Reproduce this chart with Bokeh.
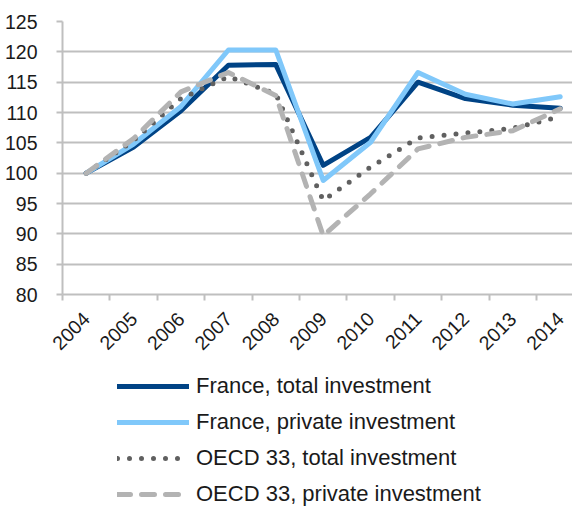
from bokeh.plotting import figure
from bokeh.models import Range1d, FixedTicker, Legend, LegendItem
from bokeh.layouts import column
from bokeh.embed import file_html
from bokeh.resources import INLINE
import math

years = [2004, 2005, 2006, 2007, 2008, 2009, 2010, 2011, 2012, 2013, 2014]
france_total = [100, 104.3, 110.3, 117.8, 117.9, 101.3, 105.9, 115.0, 112.3, 111.2, 110.7]
france_private = [100, 104.8, 111.0, 120.3, 120.3, 98.8, 105.1, 116.6, 113.0, 111.4, 112.6]
oecd_total = [100, 105.4, 112.3, 115.9, 113.1, 95.5, 101.0, 105.8, 106.6, 107.4, 109.3]
oecd_private = [100, 105.7, 113.4, 116.6, 112.8, 89.7, 96.6, 104.0, 105.9, 107.0, 110.6]
y_ticks = [80, 85, 90, 95, 100, 105, 110, 115, 120, 125]
labels = ["France, total investment", "France, private investment",
          "OECD 33, total investment", "OECD 33, private investment"]
series = [france_total, france_private, oecd_total, oecd_private]

FONT = "Liberation Sans"
GRID = "#BFBFBF"
TXT = "#1a1a1a"

STYLES = [
    dict(line_color="#004385", line_width=5, line_join="round", line_cap="round"),
    dict(line_color="#80C8FA", line_width=5, line_join="round", line_cap="round"),
    dict(line_color="#606060", line_width=5, line_dash="0 12", line_cap="round", line_join="round"),
    dict(line_color="#B3B3B3", line_width=5, line_dash="13 11", line_cap="round", line_join="round"),
]

p = figure(width=572, height=369, output_backend="svg", toolbar_location=None,
           x_range=Range1d(2003.5, 2003.5 + 510 / 47.4), y_range=Range1d(80, 125),
           min_border_left=62, min_border_right=0, min_border_top=21, min_border_bottom=75)
p.outline_line_color = None

for ys, st in zip(series, STYLES):
    p.line(years, ys, **st)

# x axis
p.xaxis.ticker = FixedTicker(ticks=years, minor_ticks=[y - 0.5 for y in years])
p.xaxis.major_tick_line_color = None
p.xaxis.major_tick_out = 0
p.xaxis.major_tick_in = 0
p.xaxis.minor_tick_line_color = GRID
p.xaxis.minor_tick_line_width = 2
p.xaxis.minor_tick_out = 6
p.xaxis.minor_tick_in = 0
p.xaxis.major_label_orientation = math.pi / 4
p.xaxis.major_label_standoff = 15
p.xgrid.grid_line_color = None

# y axis
p.yaxis.ticker = FixedTicker(ticks=y_ticks)
p.yaxis.major_tick_line_color = GRID
p.yaxis.major_tick_line_width = 2
p.yaxis.major_tick_out = 6
p.yaxis.major_tick_in = 0
p.yaxis.minor_tick_line_color = None
p.yaxis.major_label_standoff = 19
p.ygrid.ticker = FixedTicker(ticks=y_ticks)
p.ygrid.grid_line_color = GRID
p.ygrid.grid_line_width = 2

for ax in (p.xaxis, p.yaxis):
    ax.axis_line_color = GRID
    ax.axis_line_width = 2
    ax.major_label_text_font = FONT
    ax.major_label_text_font_size = "19.5px"
    ax.major_label_text_color = TXT

# legend figure (its series lie outside its ranges, only the legend shows)
lg = figure(width=572, height=138, output_backend="svg", toolbar_location=None,
            x_range=Range1d(0, 1), y_range=Range1d(0, 1),
            x_axis_type=None, y_axis_type=None,
            min_border_left=0, min_border_right=0, min_border_top=0, min_border_bottom=0)
lg.outline_line_color = None
lg.xgrid.grid_line_color = None
lg.ygrid.grid_line_color = None
rends = [lg.line(years, ys, **st) for ys, st in zip(series, STYLES)]

legend = Legend(items=[LegendItem(label=l, renderers=[r]) for l, r in zip(labels, rends)],
                location=(55, 0), orientation="vertical",
                glyph_width=72, glyph_height=20, label_height=20, spacing=10,
                label_standoff=7, padding=0, margin=0,
                border_line_color=None, background_fill_alpha=0,
                label_text_font=FONT, label_text_font_size="22px", label_text_color=TXT)
lg.add_layout(legend, "center")

layout = column(p, lg, spacing=0)
open("out.html", "w").write(file_html(layout, INLINE))
